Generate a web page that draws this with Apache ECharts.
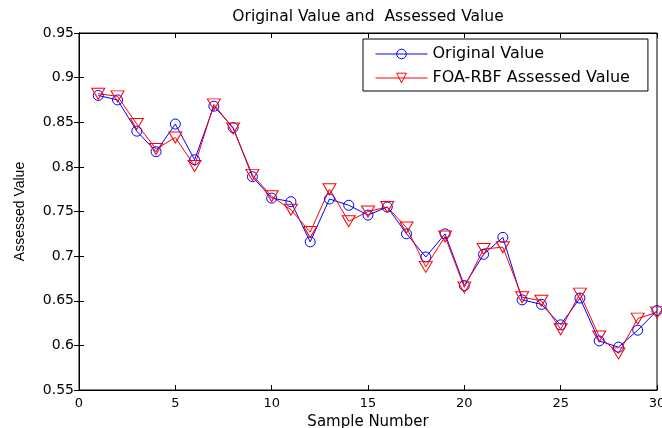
<!DOCTYPE html>
<html>
<head>
<meta charset="utf-8">
<script src="https://cdn.jsdelivr.net/npm/echarts@6/dist/echarts.min.js"></script>
<style>html,body{margin:0;padding:0;background:#fff}#c{width:662px;height:428px}</style>
</head>
<body>
<div id="c"></div>
<script>
var sampleNumbers = [1,2,3,4,5,6,7,8,9,10,11,12,13,14,15,16,17,18,19,20,21,22,23,24,25,26,27,28,29,30];
var originalValue = [0.880,0.875,0.840,0.817,0.848,0.808,0.868,0.844,0.789,0.765,0.761,0.716,0.764,0.757,0.746,0.755,0.725,0.699,0.725,0.667,0.702,0.721,0.651,0.646,0.623,0.653,0.605,0.598,0.617,0.639];
var assessedValue = [0.882,0.879,0.848,0.820,0.833,0.801,0.870,0.843,0.791,0.767,0.752,0.727,0.775,0.739,0.750,0.755,0.732,0.688,0.722,0.665,0.708,0.710,0.654,0.650,0.618,0.658,0.610,0.591,0.630,0.637];
var xTicks = {min:0, max:30, interval:5};
var yTicks = {min:0.55, max:0.95, interval:0.05};

function pairs(xs, ys){ return xs.map(function(x,i){ return [x, ys[i]]; }); }

var FONT = 'DejaVu Sans';
var tickStyle = {inside:true, length:5, lineStyle:{color:'#000', width:1}};
var lineAx = {show:true, lineStyle:{color:'#000', width:1}};

var chart = echarts.init(document.getElementById('c'), null, {renderer:'canvas'});
chart.setOption({
  backgroundColor:'#fff',
  animation:false,
  title:{
    text:'Original Value and  Assessed Value',
    left:368, top:9, textAlign:'center', padding:0,
    textStyle:{fontFamily:FONT, fontSize:15.5, fontWeight:'normal', color:'#000'}
  },
  legend:{
    orient:'vertical', left:363, top:39,
    padding:[7,18,5,12], itemWidth:52, itemHeight:12, itemGap:8,
    backgroundColor:'#fff', borderColor:'#000', borderWidth:1, borderRadius:0,
    lineStyle:{width:1}, itemStyle:{borderWidth:1},
    textStyle:{fontFamily:FONT, fontSize:16, color:'#000', lineHeight:12},
    data:['Original Value','FOA-RBF Assessed Value']
  },
  grid:{left:79, right:5, top:33, bottom:38, show:true, borderColor:'#000', borderWidth:1,
        backgroundColor:'#fff', containLabel:false, outerBoundsMode:'none'},
  xAxis:[{
    type:'value', min:xTicks.min, max:xTicks.max, interval:xTicks.interval,
    axisLine:lineAx, axisTick:tickStyle, splitLine:{show:false},
    axisLabel:{color:'#000', fontFamily:FONT, fontSize:13, margin:7},
    name:'Sample Number', nameLocation:'middle', nameGap:21,
    nameTextStyle:{fontFamily:FONT, fontSize:15, color:'#000'}
  },{
    type:'value', position:'top', min:xTicks.min, max:xTicks.max, interval:xTicks.interval,
    axisLine:lineAx, axisTick:tickStyle, splitLine:{show:false}, axisLabel:{show:false}
  }],
  yAxis:[{
    type:'value', min:yTicks.min, max:yTicks.max, interval:yTicks.interval,
    axisLine:lineAx, axisTick:tickStyle, splitLine:{show:false},
    axisLabel:{color:'#000', fontFamily:FONT, fontSize:14, margin:5,
      formatter:function(v){ return String(+v.toFixed(2)); }},
    name:'Assessed Value', nameLocation:'middle', nameGap:52,
    nameTextStyle:{fontFamily:'Liberation Sans', fontSize:14, color:'#000'}
  },{
    type:'value', position:'right', min:yTicks.min, max:yTicks.max, interval:yTicks.interval,
    axisLine:lineAx, axisTick:tickStyle, splitLine:{show:false}, axisLabel:{show:false}
  }],
  series:[{
    name:'Original Value', type:'line', xAxisIndex:0, yAxisIndex:0,
    data:pairs(sampleNumbers, originalValue),
    symbol:'circle', symbolSize:10, showAllSymbol:true,
    lineStyle:{color:'#0000ff', width:1},
    itemStyle:{color:'rgba(255,255,255,0)', borderColor:'#0000ff', borderWidth:1}
  },{
    name:'FOA-RBF Assessed Value', type:'line', xAxisIndex:0, yAxisIndex:0,
    data:pairs(sampleNumbers, assessedValue),
    symbol:'triangle', symbolRotate:180, symbolSize:[13,11], showAllSymbol:true,
    lineStyle:{color:'#ff0000', width:1},
    itemStyle:{color:'rgba(255,255,255,0)', borderColor:'#ff0000', borderWidth:1}
  }]
});
</script>
</body>
</html>
